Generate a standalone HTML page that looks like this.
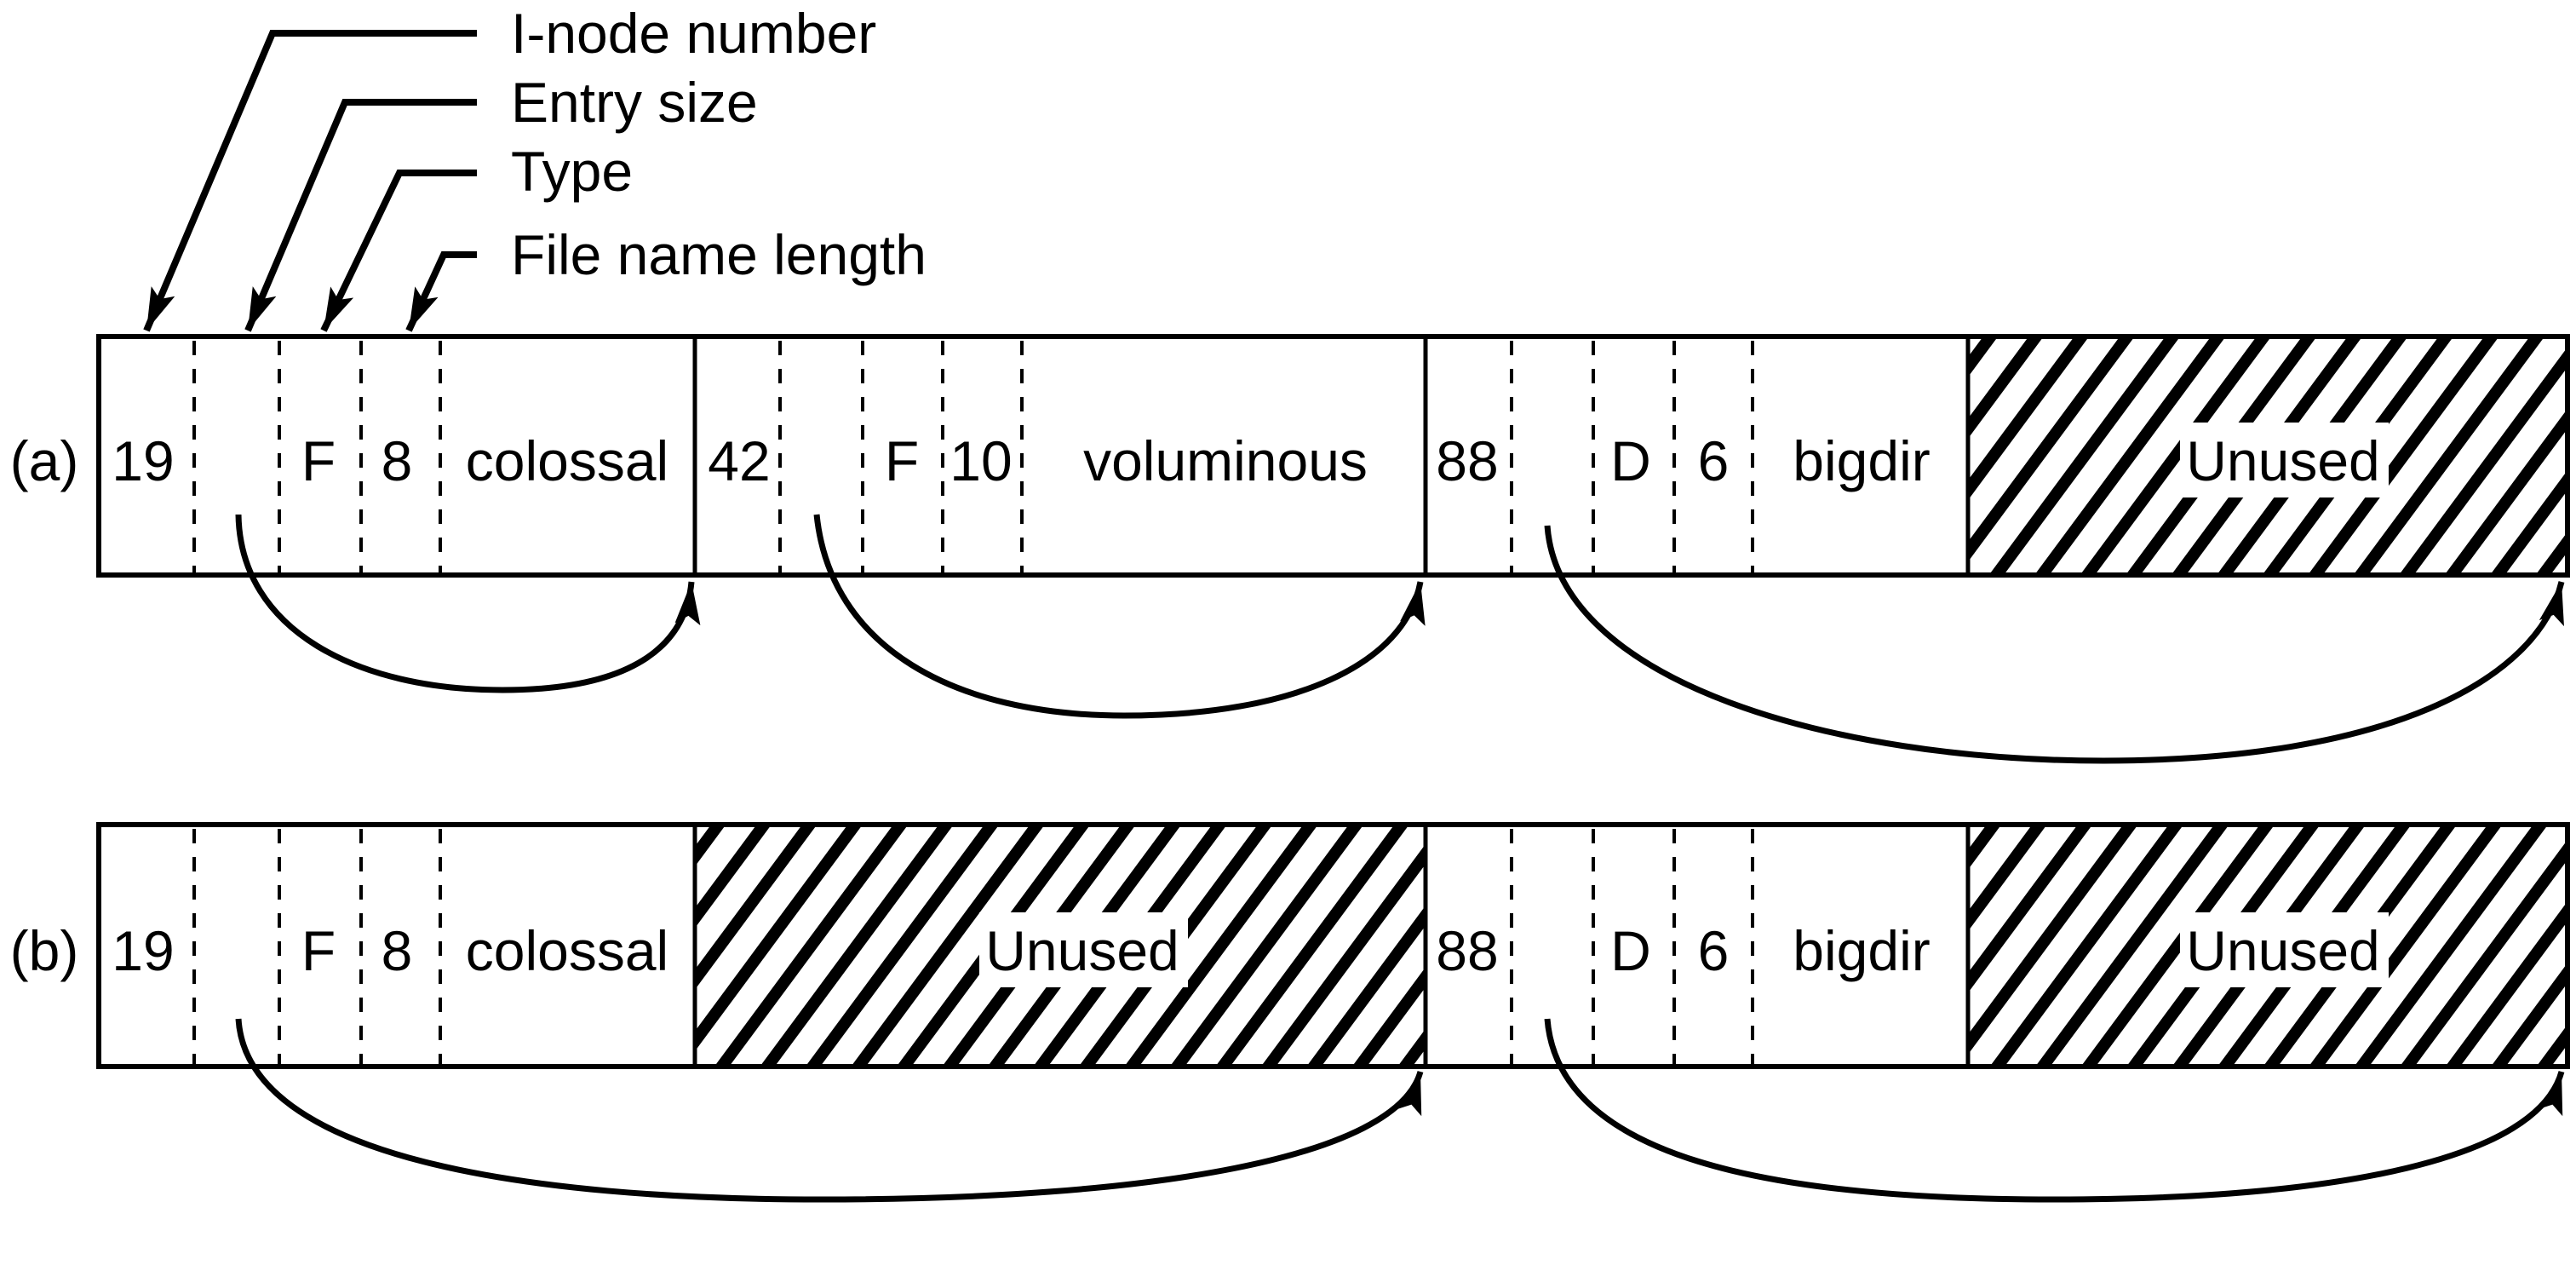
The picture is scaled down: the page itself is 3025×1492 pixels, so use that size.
<!DOCTYPE html>
<html><head><meta charset="utf-8"><style>
html,body{margin:0;padding:0;background:#fff;}
svg{display:block;}
text{font-family:"Liberation Sans",Arial,sans-serif;fill:#000;}
</style></head><body>
<svg width="3025" height="1492" viewBox="0 0 3025 1492">
<defs>
<pattern id="hatch" patternUnits="userSpaceOnUse" width="43" height="43" patternTransform="rotate(36.5)">
<rect x="0" y="0" width="14" height="43" fill="#000"/>
</pattern>
<marker id="ah" viewBox="0 0 50 30" refX="50" refY="15" markerWidth="50" markerHeight="30" markerUnits="userSpaceOnUse" orient="auto">
<path d="M0,0 L50,15 L0,30 L10,15 Z" fill="#000"/>
</marker>
</defs>

<g font-size="66">
<text x="600" y="62">I-node number</text>
<text x="600" y="143">Entry size</text>
<text x="600" y="224">Type</text>
<text x="600" y="322">File name length</text>
</g>
<g fill="none" stroke="#000" stroke-width="8">
<path d="M560,39 L320,39 L172,388" marker-end="url(#ah)"/>
<path d="M560,120 L405,120 L291,388" marker-end="url(#ah)"/>
<path d="M560,203 L469,203 L380,388" marker-end="url(#ah)"/>
<path d="M560,299 L521,299 L480,388" marker-end="url(#ah)"/>
</g>

<g>
<rect x="2311" y="395" width="704" height="280" fill="url(#hatch)"/>
<rect x="2560" y="496" width="245" height="88" fill="#fff"/>
<rect x="116" y="395" width="2899" height="280" fill="none" stroke="#000" stroke-width="6"/>
<g stroke="#000" stroke-width="5">
<line x1="816" y1="395" x2="816" y2="675"/><line x1="1674" y1="395" x2="1674" y2="675"/><line x1="2311" y1="395" x2="2311" y2="675"/>
</g>
<g stroke="#000" stroke-width="4" stroke-dasharray="17,16">
<line x1="228" y1="400" x2="228" y2="675"/><line x1="328" y1="400" x2="328" y2="675"/><line x1="424" y1="400" x2="424" y2="675"/><line x1="517" y1="400" x2="517" y2="675"/>
<line x1="916" y1="400" x2="916" y2="675"/><line x1="1013" y1="400" x2="1013" y2="675"/><line x1="1107" y1="400" x2="1107" y2="675"/><line x1="1200" y1="400" x2="1200" y2="675"/>
<line x1="1775" y1="400" x2="1775" y2="675"/><line x1="1871" y1="400" x2="1871" y2="675"/><line x1="1966" y1="400" x2="1966" y2="675"/><line x1="2058" y1="400" x2="2058" y2="675"/>
</g>
<g font-size="66" text-anchor="middle">
<text x="52" y="564">(a)</text>
<text x="168" y="564">19</text><text x="374" y="564">F</text><text x="466" y="564">8</text><text x="666" y="564">colossal</text>
<text x="868" y="564">42</text><text x="1059" y="564">F</text><text x="1152" y="564">10</text><text x="1439" y="564">voluminous</text>
<text x="1723" y="564">88</text><text x="1915" y="564">D</text><text x="2012" y="564">6</text><text x="2186" y="564">bigdir</text>
<text x="2681" y="564">Unused</text>
</g>
<g fill="none" stroke="#000" stroke-width="7">
<path d="M280,604 C282,740 420,810 590,810 C740,810 805,760 812,683" marker-end="url(#ah)"/>
<path d="M959,604 C975,760 1120,840 1320,840 C1520,840 1650,780 1668,683" marker-end="url(#ah)"/>
<path d="M1817,617 C1830,800 2150,893 2470,893 C2800,893 2980,800 3008,683" marker-end="url(#ah)"/>
</g>
</g>

<g>
<rect x="816" y="968" width="858" height="284" fill="url(#hatch)"/>
<rect x="2311" y="968" width="704" height="284" fill="url(#hatch)"/>
<rect x="1150" y="1071" width="245" height="88" fill="#fff"/>
<rect x="2560" y="1071" width="245" height="88" fill="#fff"/>
<rect x="116" y="968" width="2899" height="284" fill="none" stroke="#000" stroke-width="6"/>
<g stroke="#000" stroke-width="5">
<line x1="816" y1="968" x2="816" y2="1252"/><line x1="1674" y1="968" x2="1674" y2="1252"/><line x1="2311" y1="968" x2="2311" y2="1252"/>
</g>
<g stroke="#000" stroke-width="4" stroke-dasharray="17,16">
<line x1="228" y1="973" x2="228" y2="1252"/><line x1="328" y1="973" x2="328" y2="1252"/><line x1="424" y1="973" x2="424" y2="1252"/><line x1="517" y1="973" x2="517" y2="1252"/>
<line x1="1775" y1="973" x2="1775" y2="1252"/><line x1="1871" y1="973" x2="1871" y2="1252"/><line x1="1966" y1="973" x2="1966" y2="1252"/><line x1="2058" y1="973" x2="2058" y2="1252"/>
</g>
<g font-size="66" text-anchor="middle">
<text x="52" y="1139">(b)</text>
<text x="168" y="1139">19</text><text x="374" y="1139">F</text><text x="466" y="1139">8</text><text x="666" y="1139">colossal</text>
<text x="1271" y="1139">Unused</text>
<text x="1723" y="1139">88</text><text x="1915" y="1139">D</text><text x="2012" y="1139">6</text><text x="2186" y="1139">bigdir</text>
<text x="2681" y="1139">Unused</text>
</g>
<g fill="none" stroke="#000" stroke-width="7">
<path d="M280,1196 C290,1360 620,1408 965,1408 C1350,1408 1640,1360 1668,1258" marker-end="url(#ah)"/>
<path d="M1817,1196 C1830,1360 2080,1408 2411,1408 C2750,1408 2980,1360 3008,1258" marker-end="url(#ah)"/>
</g>
</g>
</svg>
</body></html>
